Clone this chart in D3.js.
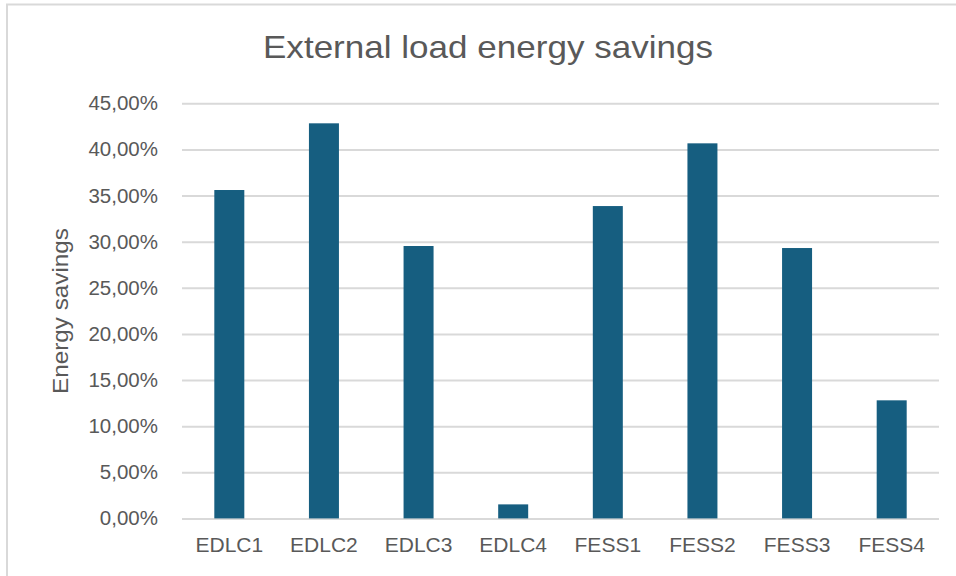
<!DOCTYPE html>
<html>
<head>
<meta charset="utf-8">
<script src="https://cdn.jsdelivr.net/npm/d3@7"></script>
<style>
  html, body { margin: 0; padding: 0; background: #fff; }
  svg { display: block; }
  text { font-family: "Liberation Sans", Arial, sans-serif; fill: #595959; }
</style>
</head>
<body>
<svg id="chart" width="956" height="576"></svg>
<script>
// Chart data
const categories = ["EDLC1", "EDLC2", "EDLC3", "EDLC4", "FESS1", "FESS2", "FESS3", "FESS4"];
const savings = [0.356, 0.4283, 0.2953, 0.0152, 0.3386, 0.4066, 0.2931, 0.1280];
const yTicks = [0, 0.05, 0.10, 0.15, 0.20, 0.25, 0.30, 0.35, 0.40, 0.45];
const chartTitle = "External load energy savings";
const yAxisTitle = "Energy savings";

const svg = d3.select("#chart");
const W = 956, H = 576;
const plot = { left: 182, right: 939, top: 103.3, bottom: 518.4 };

// Outer chart frame
svg.append("rect")
  .attr("x", 7).attr("y", 4.5)
  .attr("width", W + 10).attr("height", H + 10)
  .attr("fill", "#fff")
  .attr("stroke", "#d9d9d9").attr("stroke-width", 2);

const x = d3.scaleBand()
  .domain(categories)
  .range([plot.left, plot.right])
  .paddingInner(0.683)
  .paddingOuter(0.3415);

const y = d3.scaleLinear()
  .domain([0, 0.45])
  .range([plot.bottom, plot.top]);

const locale = d3.formatLocale({ decimal: ",", thousands: ".", grouping: [3], currency: ["", "€"] });
const pct = locale.format(".2%");

// Horizontal gridlines and y tick labels
const yAxis = d3.axisLeft(y)
  .tickValues(yTicks)
  .tickFormat(pct)
  .tickSize(-(plot.right - plot.left))
  .tickPadding(24);

const gy = svg.append("g")
  .attr("transform", `translate(${plot.left},0)`)
  .call(yAxis);
gy.select(".domain").remove();
gy.selectAll(".tick line").attr("stroke", "#d9d9d9").attr("stroke-width", 2);
gy.selectAll(".tick text")
  .attr("font-size", 20.5)
  .attr("fill", "#595959")
  .style("font-family", "'Liberation Sans', Arial, sans-serif");

// Bars
svg.append("g")
  .selectAll("rect")
  .data(categories.map((c, i) => ({ c, v: savings[i] })))
  .join("rect")
  .attr("x", d => x(d.c))
  .attr("width", x.bandwidth())
  .attr("y", d => y(d.v))
  .attr("height", d => y(0) - y(d.v))
  .attr("fill", "#165e80");

// Category axis labels
const xAxis = d3.axisBottom(x).tickSize(0).tickPadding(19);
const gx = svg.append("g")
  .attr("transform", `translate(0,${plot.bottom})`)
  .call(xAxis);
gx.select(".domain").remove();
gx.selectAll(".tick text")
  .attr("font-size", 21)
  .attr("fill", "#595959")
  .style("font-family", "'Liberation Sans', Arial, sans-serif");

// Title
svg.append("text")
  .attr("x", 488).attr("y", 58)
  .attr("text-anchor", "middle")
  .attr("font-size", 32)
  .attr("textLength", 450)
  .attr("lengthAdjust", "spacingAndGlyphs")
  .text(chartTitle);

// Y axis title
svg.append("text")
  .attr("transform", `translate(68,311) rotate(-90)`)
  .attr("text-anchor", "middle")
  .attr("font-size", 22)
  .attr("textLength", 166)
  .attr("lengthAdjust", "spacingAndGlyphs")
  .text(yAxisTitle);
</script>
</body>
</html>
